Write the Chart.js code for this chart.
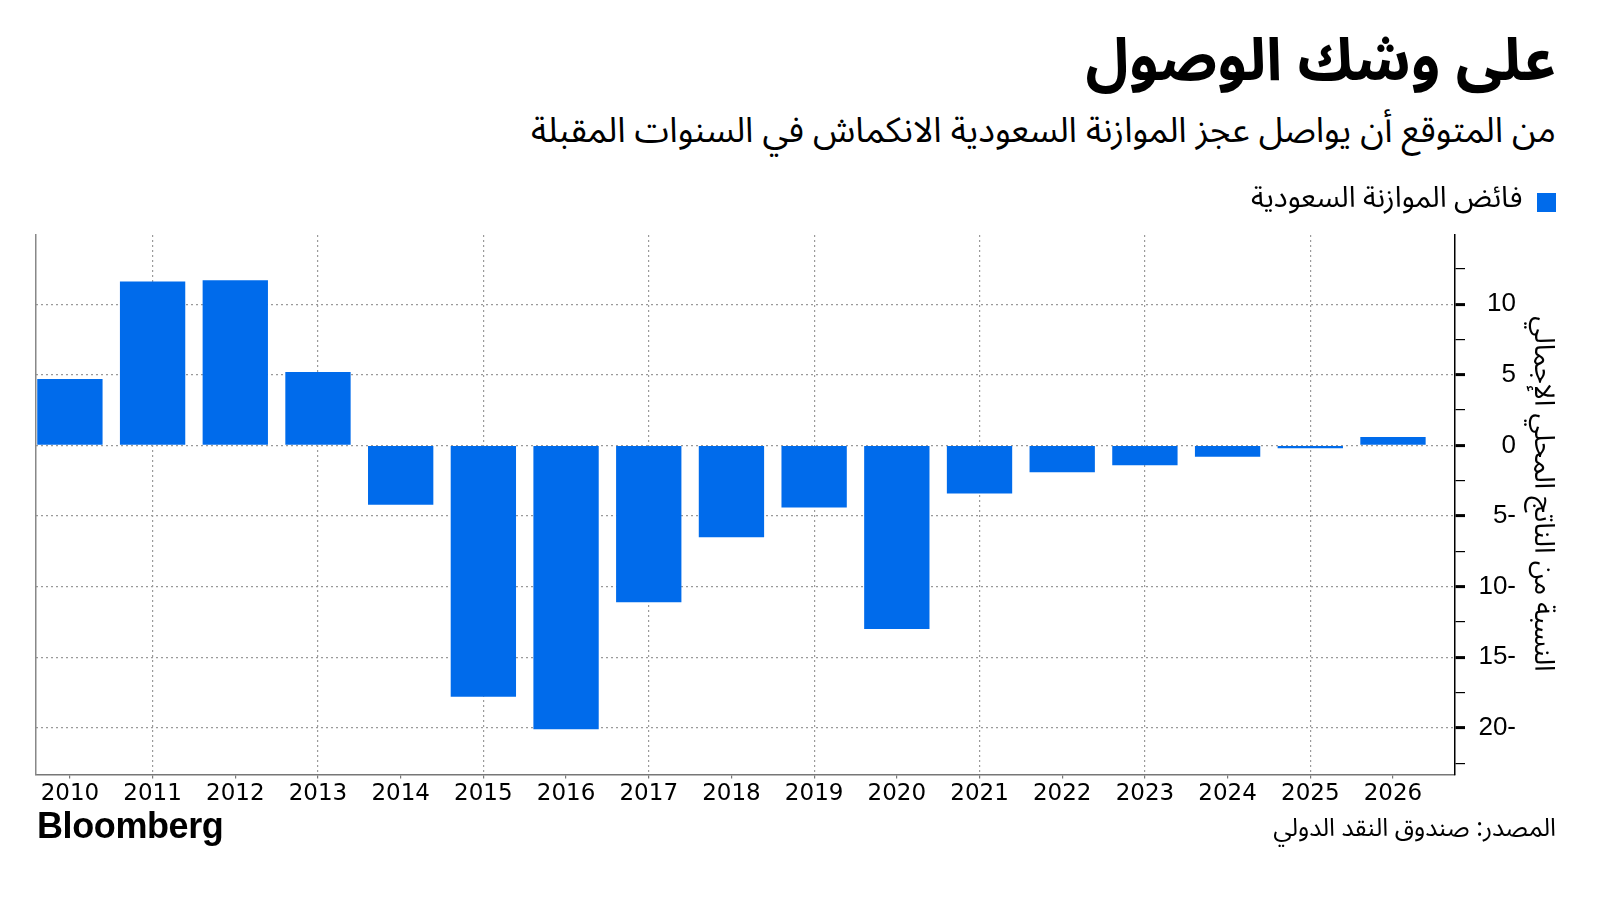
<!DOCTYPE html>
<html lang="ar">
<head>
<meta charset="utf-8">
<script src="https://cdn.jsdelivr.net/npm/chart.js@4/dist/chart.umd.min.js"></script>
<style>
  html, body { margin: 0; padding: 0; background: #ffffff; }
  body { width: 1600px; height: 901px; position: relative; overflow: hidden; }
  .ar { font-family: "Noto Sans Arabic", "DejaVu Sans", sans-serif; direction: rtl; position: absolute; right: 44px; color: #000; white-space: nowrap; }
  #title { top: 32px; font-size: 59px; font-weight: bold; line-height: 1; }
  #subtitle { top: 110px; font-size: 35px; line-height: 1.2; }
  #source { top: 813px; font-size: 25px; line-height: 1.2; }
  #logo { position: absolute; left: 37px; top: 805px; font-family: "Liberation Sans", Arial, sans-serif; font-weight: bold; font-size: 36px; letter-spacing: -0.4px; color: #000; }
  #wrap { position: absolute; left: 0; top: 173px; width: 1600px; height: 637px; }
  canvas { direction: ltr; }
</style>
</head>
<body>
<div id="title" class="ar">على وشك الوصول</div>
<div id="subtitle" class="ar">من المتوقع أن يواصل عجز الموازنة السعودية الانكماش في السنوات المقبلة</div>
<div id="wrap"><canvas id="c" dir="ltr"></canvas></div>
<div id="logo">Bloomberg</div>
<div id="source" class="ar">المصدر: صندوق النقد الدولي</div>
<script>
const years = [2010, 2011, 2012, 2013, 2014, 2015, 2016, 2017, 2018, 2019, 2020, 2021, 2022, 2023, 2024, 2025, 2026];
const surplus = [4.7, 11.6, 11.7, 5.2, -4.2, -17.8, -20.1, -11.1, -6.5, -4.4, -13.0, -3.4, -1.9, -1.4, -0.8, -0.2, 0.6];
const seriesLabel = 'فائض الموازنة السعودية';
const yAxisTitle = 'النسبة من الناتج المحلي الإجمالي';
const yTickValues = [10, 5, 0, -5, -10, -15, -20];

const arFont = '"Noto Sans Arabic", "DejaVu Sans", sans-serif';

// extra gap below the legend
const legendGap = {
  id: 'legendGap',
  beforeInit(chart) {
    const origFit = chart.legend.fit;
    chart.legend.fit = function () {
      origFit.bind(chart.legend)();
      this.height += 8;
    };
  }
};

new Chart(document.getElementById('c'), {
  type: 'bar',
  data: {
    datasets: [{
      label: seriesLabel,
      data: years.map((yr, i) => ({ x: yr, y: surplus[i] })),
      backgroundColor: '#006BEB',
      borderWidth: 0,
      barPercentage: 0.79,
      categoryPercentage: 1.0,
      yAxisID: 'y'
    }]
  },
  plugins: [legendGap],
  options: {
    responsive: true,
    maintainAspectRatio: false,
    animation: false,
    layout: { padding: { left: 36, right: 34, top: 5, bottom: 0 } },
    plugins: {
      legend: {
        display: true,
        position: 'top',
        align: 'start',
        rtl: true,
        labels: {
          font: { family: arFont, size: 29 },
          color: '#000',
          boxWidth: 19,
          boxHeight: 19,
          padding: 10
        }
      },
      tooltip: { enabled: false }
    },
    scales: {
      x: {
        type: 'linear',
        position: 'bottom',
        min: 2009.59,
        max: 2026.75,
        offset: false,
        ticks: {
          stepSize: 1,
          includeBounds: false,
          autoSkip: false,
          maxRotation: 0,
          font: { family: '"DejaVu Sans", sans-serif', size: 23 },
          color: '#000',
          padding: 2,
          callback: v => Number.isInteger(v) ? String(v) : ''
        },
        grid: {
          offset: false,
          color: c => (c.tick && Math.round(c.tick.value) % 2 === 1) ? '#9a9a9a' : 'rgba(0,0,0,0)',
          lineWidth: 1.2,
          tickColor: '#777',
          tickLength: 4,
          drawOnChartArea: true
        },
        border: { display: true, color: '#777', width: 1.5, dash: [2, 3] }
      },
      yL: {
        type: 'linear',
        position: 'left',
        display: true,
        ticks: { display: false },
        grid: { display: false, drawTicks: false },
        border: { display: true, color: '#888', width: 1.5 },
        afterFit: s => { s.width = 0; }
      },
      y: {
        type: 'linear',
        position: 'right',
        weight: 0,
        min: -23.3,
        max: 14.9,
        ticks: {
          stepSize: 2.5,
          includeBounds: false,
          autoSkip: false,
          crossAlign: 'far',
          padding: 7,
          font: { family: '"Liberation Sans", Arial, sans-serif', size: 26 },
          color: '#000',
          callback: v => yTickValues.includes(v) ? (v < 0 ? Math.abs(v) + '-' : String(v)) : ''
        },
        grid: {
          color: c => (c.tick && yTickValues.includes(c.tick.value)) ? '#9a9a9a' : 'rgba(0,0,0,0)',
          lineWidth: 1.2,
          tickColor: '#000',
          tickLength: 10,
          tickWidth: c => (c.tick && yTickValues.includes(c.tick.value)) ? 3 : 1.2
        },
        border: { display: true, color: '#000', width: 1.5, dash: [2, 3] },
        title: { display: false },
        afterFit: s => { s.width = 61; }
      },
      yT: {
        type: 'linear',
        position: 'right',
        weight: 1,
        display: true,
        ticks: { display: false },
        grid: { display: false, drawTicks: false },
        border: { display: false },
        title: {
          display: true,
          text: yAxisTitle + '   ',
          font: { family: arFont, size: 27.5 },
          color: '#000',
          padding: { top: 10, bottom: 0 }
        },
        afterFit: s => { s.width = 50; }
      }
    }
  }
});
</script>
</body>
</html>
